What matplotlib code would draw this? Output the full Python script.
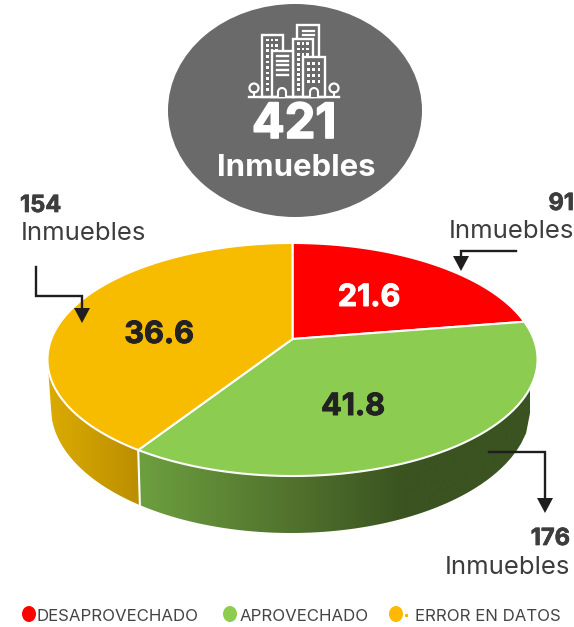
import numpy as np
from matplotlib import pyplot as plt
from matplotlib import patheffects
from matplotlib.colors import LinearSegmentedColormap
from matplotlib.patches import Ellipse, Polygon, Rectangle, Arc

plt.rcParams['font.family'] = ['Inter', 'DejaVu Sans']

# datos
categorias = ["DESAPROVECHADO", "APROVECHADO", "ERROR EN DATOS"]
porcentajes = [21.6, 41.8, 36.6]
inmuebles = [91, 176, 154]
total = 421
colores = ["#ff0000", "#8ccc50", "#f7bb00"]

W, H = 574, 627
# la perspectiva del original no reparte los angulos igual, se corrige aqui
ajuste_vista = [0, 3.2, -15.2]

CX, CY_APEX = 292.5, 339
P, S, R = 0.176, 112.9, 241.2
RX_TOP = 245
CX_BOT, CY_BOT, RX_BOT, RY_BOT = 291, 408, 240, 125

fig = plt.figure(figsize=(W / 100, H / 100), dpi=100)
ax = fig.add_axes([0, 0, 1, 1])


def proyecta(theta):
    t = np.radians(theta)
    u, v = np.sin(t), np.cos(t)
    d = 1 + P * v
    return CX + R * u / d, CY_APEX - S * v / d


def punto_base(x):
    xb = CX_BOT + (x - CX) * RX_BOT / RX_TOP
    return xb, CY_BOT + RY_BOT * np.sqrt(np.clip(1 - ((xb - CX_BOT) / RX_BOT) ** 2, 0, 1))


def cara_lateral(th0, th1, x0, x1, cmap):
    # th0 -> th1 recorre el borde de arriba, luego vuelve por la base
    tops = np.linspace(th0, th1, 80)
    xt, yt = proyecta(tops)
    xb = np.linspace(punto_base(xt[-1])[0], punto_base(xt[0])[0], 80)
    yb = CY_BOT + RY_BOT * np.sqrt(np.clip(1 - ((xb - CX_BOT) / RX_BOT) ** 2, 0, 1))
    pts = np.vstack([np.c_[xt, yt], np.c_[xb, yb]])
    poly = Polygon(pts, closed=True, fc="none", ec="none", transform=ax.transData)
    ax.add_patch(poly)
    grad = np.linspace(0, 1, 256)[None, :]
    im = ax.imshow(grad, cmap=cmap, extent=(x0, x1, 560, 300), aspect="auto", zorder=1)
    im.set_clip_path(poly)


def grueso(color, ancho=0.7):
    # la fuente original es mas pesada que Inter Bold
    return [patheffects.withStroke(linewidth=ancho, foreground=color)]


acum = np.cumsum([0] + porcentajes) * 3.6
bordes = acum + np.array(ajuste_vista + [0])

cm_verde = LinearSegmentedColormap.from_list(
    "verde", [(0, "#6d9f3f"), (0.42, "#4f6f2c"), (0.68, "#3a5320"), (1, "#3a5320")])
cm_amarillo = LinearSegmentedColormap.from_list("amarillo", ["#dcab00", "#bb8e00"])

# caras laterales: verde y amarillo son las unicas visibles
cara_lateral(100, bordes[2], 138, 530, cm_verde)
cara_lateral(bordes[2], 260, 47, 140, cm_amarillo)

# caras superiores
for i in range(3):
    th = np.linspace(bordes[i], bordes[i + 1], 120)
    x, y = proyecta(th)
    pts = np.vstack([[CX, CY_APEX], np.c_[x, y]])
    ax.add_patch(Polygon(pts, closed=True, fc=colores[i], ec="white", lw=1.5, zorder=3))

# linea entre verde y amarillo en el lateral
x0, y0 = proyecta(bordes[2])
xb, yb = punto_base(x0)
ax.plot([x0, xb], [y0, yb], color="white", lw=1.5, zorder=2)

# valores sobre la torta
pos_valores = [(369, 295), (353, 404), (159, 332)]
for i in range(3):
    c = "white" if i == 0 else "#222222"
    ax.text(pos_valores[i][0], pos_valores[i][1], f"{porcentajes[i]}",
            color=c, fontsize=22, fontweight="bold",
            ha="center", va="center_baseline", zorder=5, path_effects=grueso(c))

# circulo con el total
GRIS = "#6a6a6a"
ax.add_patch(Ellipse((295, 110.5), 254, 213, fc=GRIS, ec="none", zorder=2))


def edificio(x0, y0, x1, y1, z=3):
    ax.add_patch(Rectangle((x0, y0), x1 - x0, y1 - y0, fc=GRIS, ec="white", lw=1.7, zorder=z))


def ventanas(xs, ys, z):
    for xv in xs:
        for yv in ys:
            ax.add_patch(Rectangle((xv, yv), 2.6, 2.6, fc="white", ec="none", zorder=z))


edificio(297, 25, 319, 60, 3)
for yl in [31, 35]:
    ax.plot([303, 314], [yl, yl], color="white", lw=1.6, zorder=3.1)
edificio(262, 35, 283, 97, 3.2)
ventanas([266, 270.5, 275], [38.5, 44, 49], 3.3)
ventanas([266], np.arange(55, 92, 5.5), 3.3)
edificio(293, 39, 313, 97, 3.4)
ventanas([297, 301.5, 306], [42, 47.5, 53], 3.5)
ventanas([297], np.arange(58, 92, 5), 3.5)
edificio(272, 51, 293, 97, 3.6)
for yl in [56, 60.5, 65, 70, 75]:
    ax.plot([277, 288], [yl, yl], color="white", lw=1.7, zorder=3.7)
edificio(303, 57, 325, 97, 3.8)
ventanas([307, 312, 317.5], [62, 68, 74, 80], 3.9)
ax.plot([249, 339], [97, 97], color="white", lw=1.7, zorder=4)
for xa in [254, 334]:
    ax.add_patch(Ellipse((xa, 88), 9, 9, fc="none", ec="white", lw=1.6, zorder=4))
    ax.plot([xa, xa], [92, 97], color="white", lw=1.4, zorder=4)
for xa in [282, 314]:
    ax.add_patch(Rectangle((xa - 3.5, 91), 7, 6, fc=GRIS, ec="none", zorder=4))
    ax.add_patch(Arc((xa, 92), 8, 8, theta1=180, theta2=360, ec="white", lw=1.5, zorder=4.1))
    ax.plot([xa - 4, xa - 4], [92, 97], color="white", lw=1.5, zorder=4.1)
    ax.plot([xa + 4, xa + 4], [92, 97], color="white", lw=1.5, zorder=4.1)

ax.text(294, 138, f"{total}", color="white", fontsize=35, fontweight="bold",
        ha="center", va="baseline", zorder=5, path_effects=grueso("white", 1.2))
ax.text(296, 176, "Inmuebles", color="white", fontsize=22.4, fontweight="bold",
        ha="center", va="baseline", zorder=5)

# etiquetas de inmuebles
GT = "#3d3d3d"
ax.text(20, 212, f"{inmuebles[2]}", color=GT, fontsize=17, fontweight="bold", ha="left", va="baseline",
        path_effects=grueso(GT, 0.5))
ax.text(21, 240, "Inmuebles", color=GT, fontsize=18.5, ha="left", va="baseline")
ax.text(574, 210, f"{inmuebles[0]}", color=GT, fontsize=17, fontweight="bold", ha="right", va="baseline",
        path_effects=grueso(GT, 0.5))
ax.text(574, 238, "Inmuebles", color=GT, fontsize=18.5, ha="right", va="baseline")
ax.text(570, 545, f"{inmuebles[1]}", color=GT, fontsize=17, fontweight="bold", ha="right", va="baseline",
        path_effects=grueso(GT, 0.5))
ax.text(570, 574, "Inmuebles", color=GT, fontsize=18.5, ha="right", va="baseline")


# flechas
def flecha(xs, ys, punta):
    ax.plot(xs, ys, color="#1e1e1e", lw=1.7, zorder=6, solid_joinstyle="miter")
    xp, yp = punta
    ax.add_patch(Polygon([(xp - 8, yp - 15), (xp + 8, yp - 15), (xp, yp)], fc="#1e1e1e", ec="none", zorder=6))


flecha([516, 461, 461], [251, 251, 258], (461, 271))
flecha([36, 36, 82, 82], [267, 296, 296, 310], (82, 323))
flecha([489, 545, 545], [452, 452, 500], (545, 513))

# leyenda
leyenda_x = [29, 230, 396]
texto_x = [37, 240, 415]
for i in range(3):
    ax.add_patch(Ellipse((leyenda_x[i], 614), 14, 16, fc=["#ff0000", "#8ccc50", "#ffb900"][i], ec="none"))
    ax.text(texto_x[i], 621, categorias[i], color="#444444", fontsize=12.1, ha="left", va="baseline")
ax.add_patch(Rectangle((405, 614), 2.5, 2.5, fc="#ffb900", ec="none"))

ax.set_xlim(0, W)
ax.set_ylim(H, 0)
ax.axis("off")
fig.savefig("out.png", dpi=100)
